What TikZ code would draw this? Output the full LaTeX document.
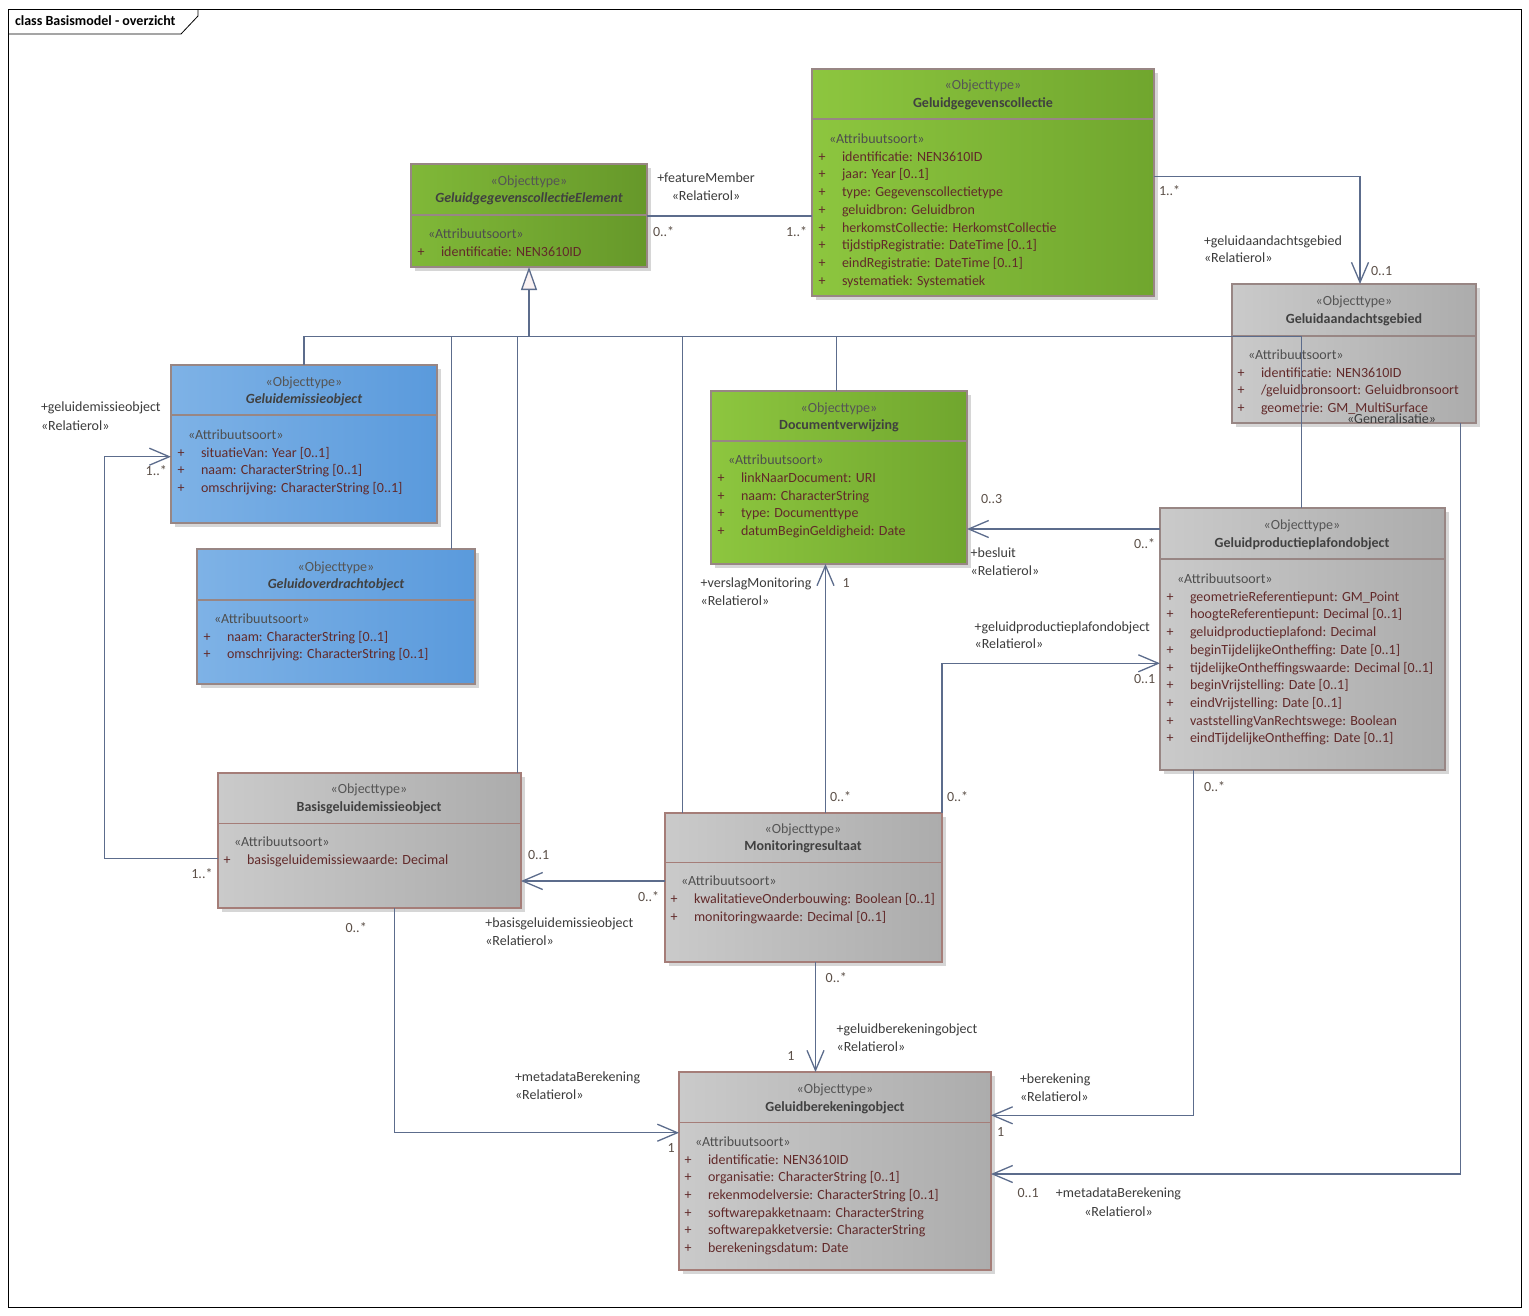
\documentclass[tikz,border=0pt]{standalone}
\usepackage{fontspec}
\setmainfont{Carlito}
\usetikzlibrary{arrows.meta}
\definecolor{connc}{RGB}{92,108,140}
\definecolor{stereoc}{RGB}{85,85,85}
\definecolor{namec}{RGB}{64,64,64}
\definecolor{attrc}{RGB}{78,78,78}
\definecolor{itemc}{RGB}{98,42,42}
\definecolor{multc}{RGB}{92,80,72}
\definecolor{rolecol}{RGB}{60,60,60}
\definecolor{bordc}{RGB}{152,134,132}
\definecolor{bordthin}{RGB}{165,125,120}
\definecolor{shadowc}{RGB}{214,214,214}
\definecolor{greenL}{RGB}{141,198,63}
\definecolor{greenR}{RGB}{112,166,46}
\definecolor{dgreenL}{RGB}{128,184,56}
\definecolor{dgreenR}{RGB}{102,152,42}
\definecolor{blueL}{RGB}{126,178,230}
\definecolor{blueR}{RGB}{90,154,220}
\definecolor{greyL}{RGB}{202,202,202}
\definecolor{greyR}{RGB}{172,172,172}
\definecolor{genfill}{RGB}{250,242,242}
\newcommand\dfont{\fontsize{14}{17.7}\selectfont}
\tikzset{
  txt/.style={font=\dfont, inner sep=0pt, outer sep=0pt, yshift=-2.2pt},
  stereo/.style={txt, text=stereoc, anchor=mid},
  cname/.style={txt, text=namec, anchor=mid, font=\dfont\bfseries},
  cnamei/.style={txt, text=namec, anchor=mid, font=\dfont\bfseries\itshape},
  attrhead/.style={txt, text=attrc, anchor=mid west},
  attritem/.style={txt, text=itemc, anchor=mid west},
  attrplus/.style={txt, text=itemc, anchor=mid},
  mult/.style={txt, text=multc, anchor=mid west},
  role/.style={txt, text=rolecol, anchor=mid west},
  rolemid/.style={txt, text=rolecol, anchor=mid},
  boxthick/.style={draw=bordc, line width=2.6pt},
  boxmed/.style={draw=bordc, line width=2pt},
  boxthin/.style={draw=bordthin, line width=1.2pt},
  septhick/.style={draw=bordc, line width=2pt},
  sepmed/.style={draw=bordc, line width=1.6pt},
  septhin/.style={draw=bordthin, line width=1pt},
  assoc/.style={draw=connc, line width=1.3pt},
  openv/.style={-{Straight Barb[length=20pt,width=17pt]}},
  gentip/.style={-{Triangle[length=23pt,width=16pt,fill=genfill]}},
}
% name, x1, y1, x2, y2, ysep, left colour, right colour, border kind
\newcommand\umlbox[9]{%
  \fill[shadowc] (#2+4,#3+4) rectangle (#4+4,#5+4);
  \node[box#9, left color=#7, right color=#8, minimum width={(#4-#2)*1pt},
        minimum height={(#5-#3)*1pt}, anchor=north west, inner sep=0pt,
        outer sep=0pt] (#1) at (#2,#3) {};
  \draw[sep#9] (#2,#6) -- (#4,#6);
}
% name, centre x, stereotype y, title, title style
\newcommand\umlhead[5]{%
  \node[stereo] (#1-s) at (#2,#3) {«Objecttype»};
  \node[#5] (#1-n) at (#2,#3+17.5) {#4};
}
% name, x1, y of attribute heading, list
\newcommand\umlattrs[4]{%
  \node[attrhead] (#1-a) at (#2+17,#3) {«Attribuutsoort»};
  \foreach \t [count=\i] in {#4} {
    \node[attrplus] (#1-p\i) at (#2+10,#3+\i*17.7) {+};
    \node[attritem] (#1-t\i) at (#2+30,#3+\i*17.7) {\t};
  }
}
\begin{document}
\begin{tikzpicture}[x=1pt,y=-1pt]
\useasboundingbox (0,0) rectangle (1529,1315);
\fill[white] (0,0) rectangle (1529,1315);
% frame
\draw[black, line width=1pt] (8.5,9) rectangle (1521,1307);
\draw[black, line width=0.8pt] (8.5,34) -- (181,34) -- (198,16) -- (198,9);
\node[txt, font=\dfont\bfseries, text=black, anchor=mid west] (title) at (15,20.7) {class Basismodel - overzicht};

% classes
\umlbox{gce}{411}{164}{647}{267}{215}{dgreenL}{dgreenR}{thick}
\umlhead{gce}{529}{180.7}{GeluidgegevenscollectieElement}{cnamei}
\umlattrs{gce}{411}{234.3}{identificatie: NEN3610ID}

\umlbox{gc}{812}{69}{1154}{296}{119}{greenL}{greenR}{med}
\umlhead{gc}{983}{85}{Geluidgegevenscollectie}{cname}
\umlattrs{gc}{812}{139}{identificatie: NEN3610ID, jaar: Year [0..1], type: Gegevenscollectietype, geluidbron: Geluidbron, herkomstCollectie: HerkomstCollectie, tijdstipRegistratie: DateTime [0..1], eindRegistratie: DateTime [0..1], systematiek: Systematiek}

\umlbox{ga}{1232}{284}{1476}{423}{336}{greyL}{greyR}{thick}
\umlhead{ga}{1354}{301}{Geluidaandachtsgebied}{cname}
\umlattrs{ga}{1231}{355}{identificatie: NEN3610ID, /geluidbronsoort: Geluidbronsoort, geometrie: GM\_MultiSurface}

\umlbox{ge}{171}{365}{437}{523}{415}{blueL}{blueR}{thick}
\umlhead{ge}{304}{381.7}{Geluidemissieobject}{cnamei}
\umlattrs{ge}{171}{435}{situatieVan: Year [0..1], naam: CharacterString [0..1], omschrijving: CharacterString [0..1]}

\umlbox{go}{197}{549}{475}{684}{600}{blueL}{blueR}{thick}
\umlhead{go}{336}{566.7}{Geluidoverdrachtobject}{cnamei}
\umlattrs{go}{197}{619}{naam: CharacterString [0..1], omschrijving: CharacterString [0..1]}

\umlbox{dv}{711}{391}{967}{564}{441}{greenL}{greenR}{thick}
\umlhead{dv}{839}{407.7}{Documentverwijzing}{cname}
\umlattrs{dv}{711}{460.3}{linkNaarDocument: URI, naam: CharacterString, type: Documenttype, datumBeginGeldigheid: Date}

\umlbox{gpp}{1160}{508}{1445}{770}{559}{greyL}{greyR}{thick}
\umlhead{gpp}{1302}{525}{Geluidproductieplafondobject}{cname}
\umlattrs{gpp}{1160}{579}{geometrieReferentiepunt: GM\_Point, hoogteReferentiepunt: Decimal [0..1], geluidproductieplafond: Decimal, beginTijdelijkeOntheffing: Date [0..1], tijdelijkeOntheffingswaarde: Decimal [0..1], beginVrijstelling: Date [0..1], eindVrijstelling: Date [0..1], vaststellingVanRechtswege: Boolean, eindTijdelijkeOntheffing: Date [0..1]}

\umlbox{bge}{218}{773}{521}{908}{823}{greyL}{greyR}{thin}
\umlhead{bge}{369}{789}{Basisgeluidemissieobject}{cname}
\umlattrs{bge}{217}{842.3}{basisgeluidemissiewaarde: Decimal}

\umlbox{mr}{665}{813}{942}{962}{862}{greyL}{greyR}{thin}
\umlhead{mr}{803}{828.7}{Monitoringresultaat}{cname}
\umlattrs{mr}{664}{881}{kwalitatieveOnderbouwing: Boolean [0..1], monitoringwaarde: Decimal [0..1]}

\umlbox{gb}{679}{1072}{991}{1270}{1122}{greyL}{greyR}{thin}
\umlhead{gb}{835}{1089.3}{Geluidberekeningobject}{cname}
\umlattrs{gb}{678}{1141.7}{identificatie: NEN3610ID, organisatie: CharacterString [0..1], rekenmodelversie: CharacterString [0..1], softwarepakketnaam: CharacterString, softwarepakketversie: CharacterString, berekeningsdatum: Date}

% generalisation tree
\coordinate (bus) at (529,336.3);
\coordinate (jgo) at (451.5,336.3);
\coordinate (jbge) at (517.5,336.3);
\coordinate (jmr) at (682.5,336.3);
\coordinate (jdv) at (836.3,336.3);
\coordinate (jgpp) at (1301.3,336.3);
\draw[assoc] (ge.north) |- (jgpp) -- (jgpp |- gpp.north);
\draw[assoc] (jgo) -- (jgo |- go.north);
\draw[assoc] (jbge) -- (jbge |- bge.north);
\draw[assoc] (jmr) -- (jmr |- mr.north);
\draw[assoc] (jdv) -- (jdv |- dv.north);
\draw[assoc, gentip] (bus) -- (gce.south);
\node[role] (genlbl) at (1347,418.8) {«Generalisatie»};

% associations
\draw[assoc] ([yshift=-52pt]gce.north east) -- ([yshift=-147pt]gc.north west);
\draw[assoc, openv] ([yshift=-107.3pt]gc.north east) -| ([xshift=128pt]ga.north west);
\draw[assoc, openv] ([yshift=-85.3pt]bge.north west) -- ++(-113.7,0) |- ([yshift=-91.7pt]ge.north west);
\draw[assoc, openv] ([yshift=-21pt]gpp.north west) -- ([yshift=-138pt]dv.north east);
\draw[assoc, openv] ([xshift=160.5pt]mr.north west) -- ([xshift=114.5pt]dv.south west);
\draw[assoc, openv] (mr.north east) |- ([yshift=-155.3pt]gpp.north west);
\draw[assoc, openv] ([yshift=-68pt]mr.north west) -- ([yshift=-108pt]bge.north east);
\draw[assoc, openv] ([xshift=150.5pt]mr.south west) -- ([xshift=136.5pt]gb.north west);
\draw[assoc, openv] ([xshift=176.6pt]bge.south west) |- ([yshift=-60.7pt]gb.north west);
\draw[assoc, openv] ([xshift=33.3pt]gpp.south west) |- ([yshift=-43.3pt]gb.north east);
\draw[assoc, openv] ([xshift=-15.5pt]ga.south east) |- ([yshift=-102pt]gb.north east);

% labels
\node[rolemid] (r1a) at (706,177.7) {+featureMember};
\node[rolemid] (r1b) at (706,195.7) {«Relatierol»};
\node[mult] (m1a) at (653,231.7) {0..*};
\node[mult] (m1b) at (786,231.7) {1..*};

\node[mult] (m2a) at (1159,190.7) {1..*};
\node[role] (r2a) at (1204,240.7) {+geluidaandachtsgebied};
\node[role] (r2b) at (1204,258.3) {«Relatierol»};
\node[mult] (m2b) at (1371,270.7) {0..1};

\node[role] (r3a) at (41,407.3) {+geluidemissieobject};
\node[role] (r3b) at (41,425.7) {«Relatierol»};
\node[mult] (m3a) at (145.7,471) {1..*};
\node[mult] (m3b) at (191.4,873.7) {1..*};

\node[mult] (m4a) at (981,499.3) {0..3};
\node[mult] (m4b) at (1134,544) {0..*};
\node[role] (r4a) at (970.7,552.7) {+besluit};
\node[role] (r4b) at (970.7,570.7) {«Relatierol»};

\node[role] (r5a) at (700.7,582.7) {+verslagMonitoring};
\node[role] (r5b) at (700.7,600.7) {«Relatierol»};
\node[mult] (m5a) at (842.7,582.7) {1};
\node[mult] (m5b) at (830,796.7) {0..*};

\node[role] (r6a) at (974.7,626.7) {+geluidproductieplafondobject};
\node[role] (r6b) at (974.7,644.3) {«Relatierol»};
\node[mult] (m6a) at (1134,679) {0..1};
\node[mult] (m6b) at (947,796.7) {0..*};

\node[mult] (m7a) at (528,855) {0..1};
\node[mult] (m7b) at (638,896.7) {0..*};
\node[role] (r7a) at (485.3,922.7) {+basisgeluidemissieobject};
\node[role] (r7b) at (485.3,941) {«Relatierol»};

\node[mult] (m8a) at (825.7,978.3) {0..*};
\node[role] (r8a) at (836.7,1029.3) {+geluidberekeningobject};
\node[role] (r8b) at (836.7,1047) {«Relatierol»};
\node[mult] (m8b) at (787.3,1055.7) {1};

\node[mult] (m9a) at (345.6,928.3) {0..*};
\node[role] (r9a) at (515,1077.3) {+metadataBerekening};
\node[role] (r9b) at (515,1095) {«Relatierol»};
\node[mult] (m9b) at (667.5,1148.3) {1};

\node[mult] (m10a) at (1204,786.7) {0..*};
\node[role] (r10a) at (1020,1079.3) {+berekening};
\node[role] (r10b) at (1020,1097.3) {«Relatierol»};
\node[mult] (m10b) at (997,1131.7) {1};

\node[mult] (m11a) at (1017.5,1193.3) {0..1};
\node[rolemid] (r11a) at (1118.5,1193.3) {+metadataBerekening};
\node[rolemid] (r11b) at (1118.5,1211.7) {«Relatierol»};
\end{tikzpicture}
\end{document}
